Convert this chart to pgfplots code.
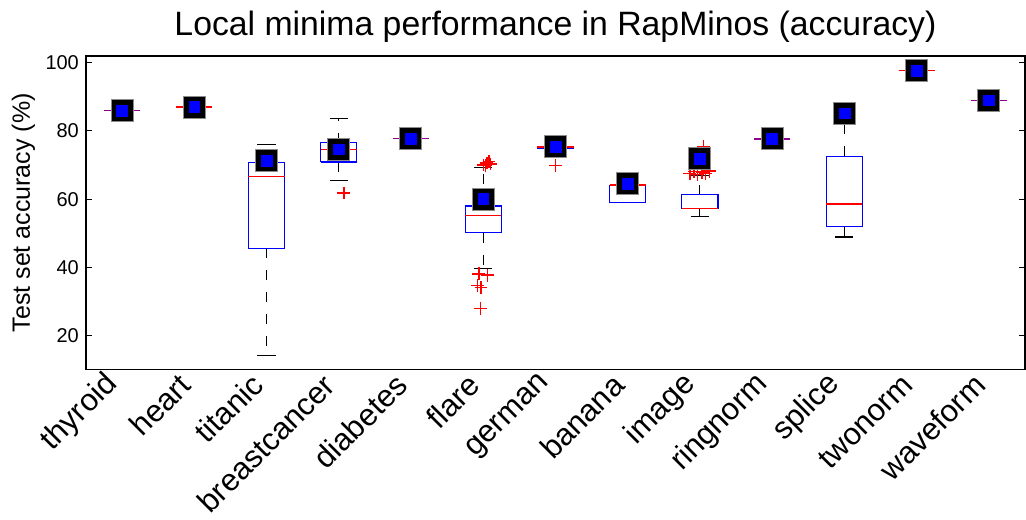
\documentclass[border=0pt]{standalone}
\usepackage{pgfplots}
\pgfplotsset{compat=1.18}
\usepackage{fontspec}
\setmainfont{Liberation Sans}
\definecolor{medpurple}{rgb}{0.55,0.0,0.55}
\begin{document}
\begin{tikzpicture}
\begin{axis}[
  scale only axis, width=470pt, height=157pt,
  xmin=0.5, xmax=13.5, ymin=10, ymax=102,
  xtick={1,...,13},
  xticklabels={thyroid,heart,titanic,breastcancer,diabetes,flare,german,banana,image,ringnorm,splice,twonorm,waveform},
  xtick style={draw=none},
  xticklabel style={font=\fontsize{15.5}{18}\selectfont, inner sep=0pt, yshift=-5pt, xshift=-4.5pt, rotate=45, anchor=east},
  ytick={20,40,60,80,100},
  yticklabel style={font=\fontsize{10}{12}\selectfont},
  /pgf/number format/assume math mode=true,
  major tick length=3pt,
  tick style={black, line width=0.5pt},
  axis line style={line width=0.8pt},
  title={Local minima performance in RapMinos (accuracy)},
  every axis title/.style={at={(axis description cs:0.5,1)}, anchor=base, yshift=10pt, font=\fontsize{16.9}{19}\selectfont},
  ylabel={Test set accuracy (\%)},
  every axis y label/.style={at={(axis description cs:-0.0596,0.5)}, rotate=90, anchor=base, font=\fontsize{12.5}{15}\selectfont},
  unbounded coords=jump,
]
\coordinate (bl) at (rel axis cs:0,0);
\coordinate (tr) at (rel axis cs:1,1);
% whiskers (dashed)
\addplot[black, line width=0.55pt, dash pattern=on 5pt off 6pt] coordinates {
 (3,45.6) (3,14.2) (3,nan)
 (3,70.8) (3,76.1) (3,nan)
 (4,70.9) (4,65.5) (4,nan)
 (4,76.5) (4,83.6) (4,nan)
 (6,50.2) (6,39.6) (6,nan)
 (6,58.0) (6,69.4) (6,nan)
 (9,57.2) (9,55.0) (9,nan)
 (9,61.3) (9,66.9) (9,nan)
 (11,51.9) (11,48.9) (11,nan)
 (11,72.6) (11,84.0)
};
% whisker caps
\addplot[black, line width=0.55pt] coordinates {
 (2.875,14.2) (3.125,14.2) (3,nan)
 (2.875,76.1) (3.125,76.1) (3,nan)
 (3.875,65.5) (4.125,65.5) (4,nan)
 (3.875,83.6) (4.125,83.6) (4,nan)
 (5.875,39.6) (6.125,39.6) (6,nan)
 (5.875,69.4) (6.125,69.4) (6,nan)
 (8.875,55.0) (9.125,55.0) (9,nan)
 (8.875,66.9) (9.125,66.9) (9,nan)
 (10.875,48.9) (11.125,48.9) (11,nan)
 (10.875,84.0) (11.125,84.0)
};
% boxes
\addplot[blue, line width=0.6pt] coordinates {
 (0.75,86.0) (1.25,86.0) (1,nan)
 (1.75,87.0) (2.25,87.0) (2,nan)
 (2.75,45.6) (3.25,45.6) (3.25,70.8) (2.75,70.8) (2.75,45.6) (3,nan)
 (3.75,70.9) (4.25,70.9) (4.25,76.5) (3.75,76.5) (3.75,70.9) (4,nan)
 (4.75,77.8) (5.25,77.8) (5,nan)
 (5.75,50.2) (6.25,50.2) (6.25,58.0) (5.75,58.0) (5.75,50.2) (6,nan)
 (6.75,75.0) (7.25,75.0) (7.25,75.4) (6.75,75.4) (6.75,75.0) (7,nan)
 (7.75,58.9) (8.25,58.9) (8.25,64.1) (7.75,64.1) (7.75,58.9) (8,nan)
 (8.75,57.2) (9.25,57.2) (9.25,61.3) (8.75,61.3) (8.75,57.2) (9,nan)
 (9.75,77.7) (10.25,77.7) (10,nan)
 (10.75,51.9) (11.25,51.9) (11.25,72.6) (10.75,72.6) (10.75,51.9) (11,nan)
 (11.75,97.7) (12.25,97.7) (12,nan)
 (12.75,89.0) (13.25,89.0)
};
% medians (red)
\addplot[red, line width=0.7pt] coordinates {
 (1.75,87.0) (2.25,87.0) (2,nan)
 (2.75,66.7) (3.25,66.7) (3,nan)
 (3.75,74.5) (4.25,74.5) (4,nan)
 (5.75,55.2) (6.25,55.2) (6,nan)
 (6.75,75.3) (7.25,75.3) (7,nan)
 (7.75,64.1) (8.25,64.1) (8,nan)
 (8.75,57.2) (9.25,57.2) (9,nan)
 (10.75,58.6) (11.25,58.6) (11,nan)
 (11.75,97.7) (12.25,97.7)
};
% medians coinciding with collapsed boxes (blue+red overlap)
\addplot[medpurple, line width=0.7pt] coordinates {
 (0.75,86.0) (1.25,86.0) (1,nan)
 (4.75,77.8) (5.25,77.8) (5,nan)
 (9.75,77.7) (10.25,77.7) (10,nan)
 (12.75,89.0) (13.25,89.0)
};
% outliers
\addplot[only marks, mark=+, color=red, mark size=3.2pt, mark options={draw=red, line width=0.7pt}] coordinates {
 (4.07,61.8)
 (5.94,38.1) (6.06,37.7) (5.92,34.6) (5.97,34.0) (5.96,27.9)
 (6.00,70.0) (6.05,70.6) (6.10,70.3) (6.08,71.0) (6.03,69.8)
 (7.00,69.9)
 (8.86,67.6) (8.92,68.1) (8.97,67.3) (9.03,67.9) (9.08,67.5) (9.13,68.2) (9.05,75.5)
};
% means
\addplot[only marks, mark=square*, mark size=5.5pt, mark options={fill=black, draw=black!45, line width=0.5pt}] coordinates {
 (1,86.0) (2,87.0) (3,71.3) (4,74.6) (5,77.8) (6,60.0) (7,75.3) (8,64.6) (9,71.8) (10,77.7) (11,85.2) (12,97.7) (13,89.0)
};
\addplot[only marks, mark=square*, mark size=2.7pt, mark options={fill=blue, draw=blue, line width=0.3pt}] coordinates {
 (1,86.0) (2,87.0) (3,71.3) (4,74.6) (5,77.8) (6,60.0) (7,75.3) (8,64.6) (9,71.8) (10,77.7) (11,85.2) (12,97.7) (13,89.0)
};
\end{axis}
\pgfresetboundingbox
\path ([xshift=-43pt,yshift=-75pt]bl) rectangle ([xshift=0.5pt,yshift=28pt]tr);
\end{tikzpicture}
\end{document}
